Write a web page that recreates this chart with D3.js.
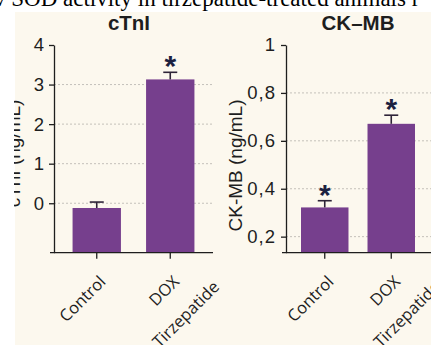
<!DOCTYPE html>
<html><head><meta charset="utf-8">
<script src="https://cdn.jsdelivr.net/npm/d3@7"></script>
<style>body{margin:0;background:#fff} svg{display:block}</style>
</head><body>
<svg id="c" width="431" height="345"></svg>
<script>
// ---- data ----
const categories = ["Control", "DOX|Tirzepatide"];
const ctniMeans = [-0.12, 3.13];
const ctniErrors = [0.15, 0.18];
const ctniStars = [false, true];
const ctniTicks = [0, 1, 2, 3, 4];
const ctniGrid = [0, 1, 2, 3];
const ckmbMeans = [0.322, 0.671];
const ckmbErrors = [0.028, 0.036];
const ckmbStars = [true, true];
const ckmbTicks = [0.2, 0.4, 0.6, 0.8, 1];
const ckmbGrid = [0.2, 0.4, 0.6, 0.8];
const captionText = "v SOD activity in tirzepatide-treated animals r";

const svg = d3.select("#c");
const W = 431, H = 345;
const PURPLE = "#763f8d", INK = "#1e1e1e", BG = "#fcf8ee";

svg.append("rect").attr("width", W).attr("height", H).attr("fill", "#fff");
svg.append("text").attr("x", -6).attr("y", 6)
  .attr("font-family", "Liberation Serif, Times New Roman, serif")
  .attr("font-size", 23).attr("fill", "#000").text(captionText);
svg.append("rect").attr("x", 15).attr("y", 12).attr("width", W - 15).attr("height", H - 12).attr("fill", BG);

function panel(cfg) {
  const g = svg.append("g");
  const y = d3.scaleLinear().domain(cfg.domain).range([252.7, 45]);
  const x = d3.scaleBand().domain(categories).range(cfg.xr)
    .paddingInner(cfg.pi).paddingOuter(cfg.po);
  const axisY = y(cfg.domain[0]);

  // grid
  g.selectAll(".grid").data(cfg.grid).join("line")
    .attr("x1", cfg.xr[0]).attr("x2", cfg.gridEnd)
    .attr("y1", d => y(d)).attr("y2", d => y(d))
    .attr("stroke", "#c4c1ba").attr("stroke-width", 1).attr("stroke-dasharray", "2,2");

  // bars
  g.selectAll(".bar").data(cfg.means).join("rect")
    .attr("x", (d, i) => x(categories[i]))
    .attr("width", x.bandwidth())
    .attr("y", d => y(d))
    .attr("height", d => axisY - y(d))
    .attr("fill", PURPLE);

  // error bars
  const eg = g.selectAll(".err").data(cfg.means).join("g");
  eg.append("line")
    .attr("x1", (d, i) => x(categories[i]) + x.bandwidth() / 2)
    .attr("x2", (d, i) => x(categories[i]) + x.bandwidth() / 2)
    .attr("y1", d => y(d))
    .attr("y2", (d, i) => y(d + cfg.errs[i]))
    .attr("stroke", "#2e2438").attr("stroke-width", 1.6);
  eg.append("line")
    .attr("x1", (d, i) => x(categories[i]) + x.bandwidth() / 2 - 7)
    .attr("x2", (d, i) => x(categories[i]) + x.bandwidth() / 2 + 7)
    .attr("y1", (d, i) => y(d + cfg.errs[i]))
    .attr("y2", (d, i) => y(d + cfg.errs[i]))
    .attr("stroke", "#2e2438").attr("stroke-width", 1.6);

  // stars
  g.selectAll(".star").data(cfg.means.map((d, i) => ({d, i})).filter(o => cfg.stars[o.i])).join("text")
    .attr("x", o => x(categories[o.i]) + x.bandwidth() / 2)
    .attr("y", o => y(o.d + cfg.errs[o.i]) + 4)
    .attr("text-anchor", "middle")
    .attr("font-family", "Liberation Sans, Arial, sans-serif")
    .attr("font-weight", "bold").attr("font-size", 30).attr("fill", "#1b2140")
    .text("*");

  // y axis
  const ax = g.append("g").attr("transform", `translate(${cfg.xr[0]},0)`)
    .call(d3.axisLeft(y).tickValues(cfg.ticks).tickSize(5).tickSizeOuter(0).tickPadding(5)
      .tickFormat(d => d3.format("~g")(d).replace(".", ",")));
  ax.select(".domain").attr("stroke", INK).attr("stroke-width", 1.3);
  ax.selectAll(".tick line").attr("stroke", INK).attr("stroke-width", 1.3);
  ax.selectAll(".tick text").attr("font-family", "Liberation Sans, Arial, sans-serif")
    .attr("font-size", 18.5).attr("fill", INK).attr("letter-spacing", cfg.ls);

  // x axis
  g.append("line").attr("x1", cfg.xr[0] - 4).attr("x2", cfg.xEnd)
    .attr("y1", axisY).attr("y2", axisY).attr("stroke", INK).attr("stroke-width", 1.3);
  g.selectAll(".xt").data(categories).join("line")
    .attr("x1", d => x(d) + x.bandwidth() / 2).attr("x2", d => x(d) + x.bandwidth() / 2)
    .attr("y1", axisY).attr("y2", axisY + 6).attr("stroke", INK).attr("stroke-width", 1.3);

  const lg = g.selectAll(".xl").data(categories).join("g")
    .attr("transform", d => `translate(${x(d) + x.bandwidth() / 2 + 10},${axisY + 30}) rotate(-45)`);
  lg.each(function(d) {
    const lines = d.split("|");
    const s = d3.select(this);
    s.append("text").attr("text-anchor", "end")
      .attr("font-family", "Open Sans, Noto Sans, sans-serif").attr("font-size", 16.5)
      .attr("font-weight", 500).attr("fill", INK)
      .text(lines[0]);
    if (lines[1]) {
      s.append("text").attr("text-anchor", "end").attr("x", 24.5).attr("y", 32)
        .attr("font-family", "Open Sans, Noto Sans, sans-serif").attr("font-size", 16.5)
        .attr("font-weight", 500).attr("fill", INK)
        .text(lines[1]);
    }
  });

  // title
  svg.append("text").attr("x", cfg.titleX).attr("y", 29.5).attr("text-anchor", "middle")
    .attr("font-family", "Liberation Sans, Arial, sans-serif").attr("font-weight", "bold")
    .attr("font-size", 20.5).attr("fill", INK).text(cfg.title);

  // y label
  svg.append("text").attr("transform", `translate(${cfg.labX},${cfg.labY}) rotate(-90)`)
    .attr("text-anchor", "middle")
    .attr("font-family", "Liberation Sans, Arial, sans-serif")
    .attr("font-size", 19).attr("fill", INK).text(cfg.label);
}

panel({
  domain: [-1.25, 4], xr: [54, 213], pi: 0.342, po: 0.2526, gridEnd: 213, xEnd: 213,
  means: ctniMeans, errs: ctniErrors, stars: ctniStars, ticks: ctniTicks, grid: ctniGrid,
  title: "cTnI", titleX: 129, label: "cTnI (ng/mL)", labX: 20, labY: 153.5, ls: 0
});
panel({
  domain: [0.133, 1], xr: [286, 430], pi: 0.286, po: 0.2256, gridEnd: 431, xEnd: 431,
  means: ckmbMeans, errs: ckmbErrors, stars: ckmbStars, ticks: ckmbTicks, grid: ckmbGrid,
  title: "CK\u2013MB", titleX: 358, label: "CK-MB (ng/mL)", labX: 241.5, labY: 165.5, ls: 1
});

// clip of the left label by the page edge
svg.append("rect").attr("x", 0).attr("y", 12).attr("width", 14).attr("height", H - 12).attr("fill", "#fff");
</script>
</body></html>
